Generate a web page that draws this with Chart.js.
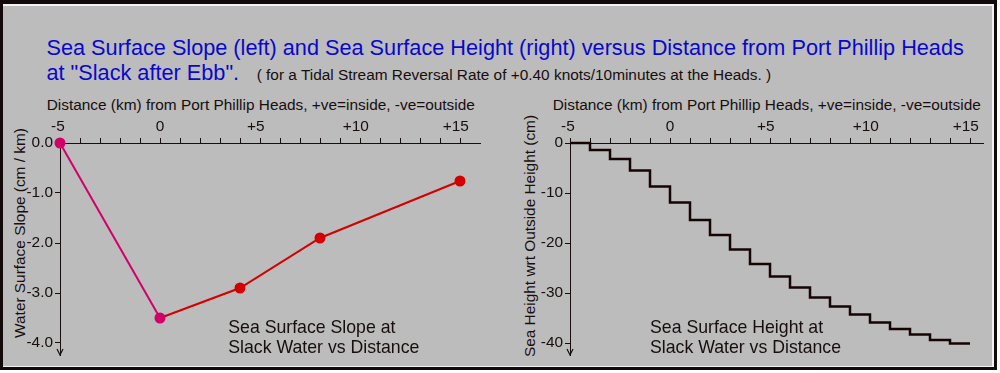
<!DOCTYPE html>
<html>
<head>
<meta charset="utf-8">
<script src="https://cdn.jsdelivr.net/npm/chart.js"></script>
<style>
body { margin:0; background:#fff; font-family:"Liberation Sans", Arial, sans-serif; }
#frame { position:absolute; left:0; top:0; width:997px; height:370px; box-sizing:border-box; border:3px solid #120a0a; border-top-width:4px; }
#panel { position:absolute; left:0; top:0; right:0; bottom:0; background:#bcbcbc; border:2px solid #f2f2f2; border-left-width:0; border-bottom-width:1px; }
.txt { position:absolute; white-space:nowrap; line-height:1; color:#180e0e; }
.blue { color:#0808cc; font-size:21.7px; }
.small { font-size:15.4px; }
.note { font-size:17.7px; }
.vert { transform:translate(-50%,-50%) rotate(-90deg); }
canvas { position:absolute; }
</style>
</head>
<body>
<div id="frame"><div id="panel"></div></div>

<div class="txt blue" style="left:46.5px; top:36.6px;">Sea Surface Slope (left) and Sea Surface Height (right) versus Distance from Port Phillip Heads</div>
<div class="txt blue" style="left:46.5px; top:61.6px;">at "Slack after Ebb".</div>
<div class="txt small" style="left:256.7px; top:67px;">( for a Tidal Stream Reversal Rate of +0.40 knots/10minutes at the Heads. )</div>

<div class="txt small" style="left:46.7px; top:97px;">Distance (km) from Port Phillip Heads, +ve=inside, -ve=outside</div>
<div class="txt small" style="left:552.7px; top:97px;">Distance (km) from Port Phillip Heads, +ve=inside, -ve=outside</div>

<div class="txt small vert" style="left:19.7px; top:233px;">Water Surface Slope (cm / km)</div>
<div class="txt small vert" style="left:529.7px; top:236px;">Sea Height wrt Outside Height (cm)</div>

<canvas id="slopeChart" width="500" height="258" style="left:0; top:115px;"></canvas>
<canvas id="heightChart" width="500" height="258" style="left:500px; top:115px;"></canvas>

<div class="txt note" style="left:228.3px; top:319px;">Sea Surface Slope at</div>
<div class="txt note" style="left:228.3px; top:339px;">Slack Water vs Distance</div>
<div class="txt note" style="left:650px; top:319px;">Sea Surface Height at</div>
<div class="txt note" style="left:650px; top:339px;">Slack Water vs Distance</div>

<script>
// slope (left chart)
const slopeKm = [-5, 0, 4, 8, 15];
const slopeVal = [0, -3.5, -2.9, -1.9, -0.76];

// sea height steps (right chart), one value per 1 km, last repeated for the end point
const heightKm = [-5, -4, -3, -2, -1, 0, 1, 2, 3, 4, 5, 6, 7, 8, 9, 10, 11, 12, 13, 14, 15];
const heightVal = [0, -1.4, -3.2, -5.5, -8.7, -11.9, -15.4, -18.4, -21.3, -24.2, -26.7,
                   -28.9, -30.9, -32.7, -34.3, -35.9, -37.2, -38.3, -39.4, -40.1, -40.1];

// ticks
const kmTicks = [-5, -4, -3, -2, -1, 0, 1, 2, 3, 4, 5, 6, 7, 8, 9, 10, 11, 12, 13, 14, 15];
const kmLabelAt = [-5, 0, 5, 10, 15];
const kmLabels = ['-5', '0', '+5', '+10', '+15'];
const slopeTicks = [0, -1, -2, -3, -4];
const slopeLabels = ['0.0', '-1.0', '-2.0', '-3.0', '-4.0'];
const heightTicks = [0, -10, -20, -30, -40];
const heightLabels = ['0', '-10', '-20', '-30', '-40'];

const ink = '#180e0e';
const magenta = '#d10068';
const red = '#d20000';
const tickFont = { family: '"Liberation Sans", Arial, sans-serif', size: 15.4 };

// the sign sits left of the centred number, so pad the label on the right
function kmLabel(v) {
    const i = kmLabelAt.indexOf(v);
    if (i < 0) return '';
    const s = kmLabels[i];
    if (s[0] === '+') return s + '  ';
    if (s[0] === '-') return s + ' ';
    return s;
}

function xAxis(max) {
    return {
        type: 'linear', position: 'top', min: -5, max: max,
        afterBuildTicks: s => { s.ticks = kmTicks.map(v => ({ value: v })); },
        afterFit: s => { s.height = 28; },
        grid: { drawOnChartArea: false, drawTicks: true, tickLength: 5, color: ink },
        border: { display: true, color: ink, width: 1 },
        ticks: { autoSkip: false, maxRotation: 0, padding: 2, color: ink, font: tickFont, callback: kmLabel }
    };
}

function yAxis(min, vals, labels, width) {
    return {
        type: 'linear', min: min, max: 0,
        afterBuildTicks: s => { s.ticks = vals.map(v => ({ value: v })); },
        afterFit: s => { s.width = width; },
        grid: { drawOnChartArea: false, drawTicks: true, tickLength: 5, color: ink },
        border: { display: true, color: ink, width: 1 },
        ticks: { padding: 2, color: ink, font: tickFont, callback: v => labels[vals.indexOf(v)] }
    };
}

// arrow head at the bottom of the y axis
const arrowPlugin = {
    id: 'arrow',
    afterDraw(chart) {
        const { ctx, chartArea } = chart;
        const x = chartArea.left, y = chartArea.bottom;
        ctx.save();
        ctx.strokeStyle = ink;
        ctx.lineWidth = 1.2;
        ctx.beginPath();
        ctx.moveTo(x - 3, y - 6);
        ctx.lineTo(x, y);
        ctx.lineTo(x + 3, y - 6);
        ctx.stroke();
        ctx.restore();
    }
};

Chart.defaults.font.family = tickFont.family;

new Chart(document.getElementById('slopeChart'), {
    type: 'line',
    data: {
        datasets: [{
            data: slopeKm.map((x, i) => ({ x: x, y: slopeVal[i] })),
            borderWidth: 2,
            borderColor: red,
            segment: { borderColor: c => c.p0DataIndex === 0 ? magenta : red },
            pointRadius: 5.5,
            pointBorderWidth: 0,
            pointBackgroundColor: c => c.dataIndex < 2 ? magenta : red,
            clip: false,
            tension: 0
        }]
    },
    options: {
        responsive: false,
        animation: false,
        devicePixelRatio: 1,
        layout: { padding: { left: 0, top: 0, right: 20, bottom: 18 } },
        plugins: { legend: { display: false }, tooltip: { enabled: false } },
        scales: { x: xAxis(16), y: yAxis(-4.24, slopeTicks, slopeLabels, 60) }
    },
    plugins: [arrowPlugin]
});

new Chart(document.getElementById('heightChart'), {
    type: 'line',
    data: {
        datasets: [{
            data: heightKm.map((x, i) => ({ x: x, y: heightVal[i] })),
            stepped: 'before',
            borderWidth: 2.5,
            borderColor: '#140404',
            pointRadius: 0,
            clip: false
        }]
    },
    options: {
        responsive: false,
        animation: false,
        devicePixelRatio: 1,
        layout: { padding: { left: 0, top: 0, right: 17, bottom: 18 } },
        plugins: { legend: { display: false }, tooltip: { enabled: false } },
        scales: { x: xAxis(15.65), y: yAxis(-42.4, heightTicks, heightLabels, 70) }
    },
    plugins: [arrowPlugin]
});
</script>
</body>
</html>
